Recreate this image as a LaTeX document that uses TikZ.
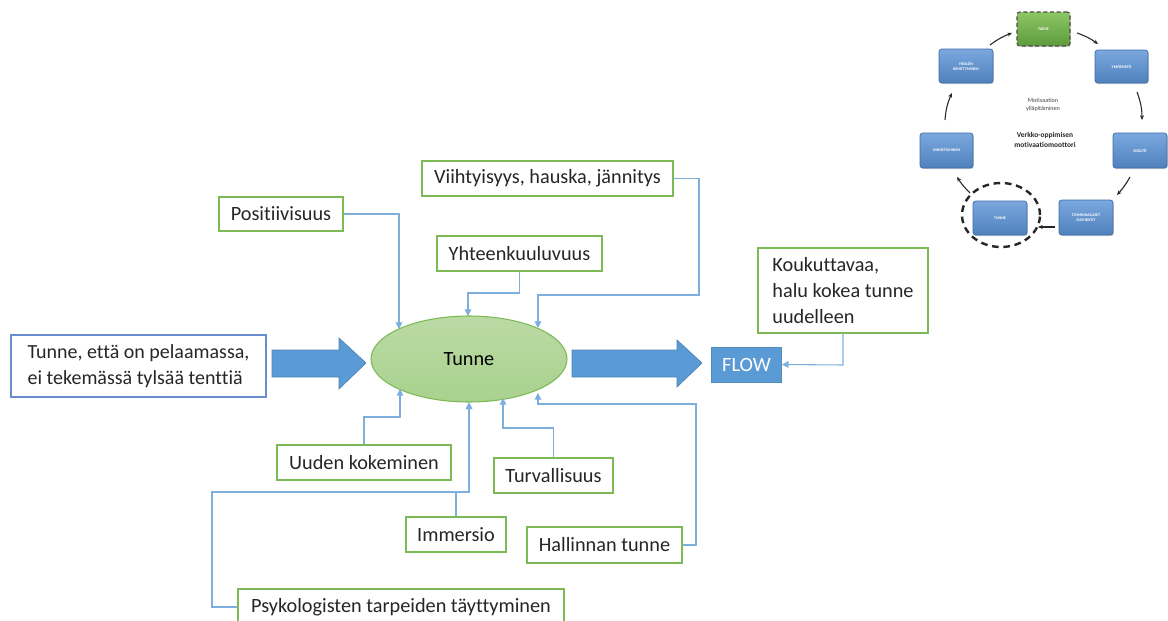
\documentclass[tikz,border=0pt]{standalone}
\usepackage{fontspec}
\setmainfont{Carlito}[Ligatures=NoCommon]
\usetikzlibrary{arrows.meta,shapes.geometric,shadows}
\definecolor{lblue}{HTML}{5B9BD5}
\definecolor{dblue}{HTML}{4472C4}
\definecolor{lgreen}{HTML}{7DBA55}
\definecolor{efill}{HTML}{A9D18E}
\definecolor{mblue}{HTML}{4F81BD}
\definecolor{mbluetop}{HTML}{7BA7DE}
\definecolor{mborder}{HTML}{3A6CA8}
\definecolor{gtop}{HTML}{8CC665}
\definecolor{gbot}{HTML}{5E9B3C}
\begin{document}
\begin{tikzpicture}[x=0.75pt,y=-0.75pt,
  sz/.style 2 args={minimum width=#1*0.75pt,minimum height=#2*0.75pt},
  lab/.style={draw=lgreen,line width=0.9pt,fill=white,inner sep=0pt,font=\fontsize{15.2}{19.5}\selectfont,text=black!85},
  link/.style={draw=lblue!80,line width=0.8pt,-{Triangle[width=5pt,length=5pt]}},
  fat/.style={fill=lblue,draw=lblue!85!black,line width=0.5pt},
  mini/.style={rounded corners=2pt,draw=mborder,line width=0.5pt,top color=mbluetop,bottom color=mblue,
    text=white,font=\fontsize{3}{3.6}\selectfont\bfseries,align=center,inner sep=0pt,
    drop shadow={shadow xshift=0.6pt,shadow yshift=-0.8pt,opacity=0.35}},
  cyc/.style={-{Stealth[length=3.5pt,width=3pt]},line width=0.8pt,black!85}
]
\useasboundingbox (0,0) rectangle (1168,621);

% central emotion ellipse
\node[ellipse,draw=lgreen,line width=0.8pt,top color=efill!80,bottom color=efill,
  sz={196}{86},inner sep=0pt,font=\fontsize{15.2}{18}\selectfont]
  (tunne) at (469,359) {Tunne};

% input box on the left
\node[draw=dblue!80,line width=0.8pt,inner sep=0pt,sz={255}{62},
  align=left,font=\fontsize{15}{20}\selectfont,text=black!85] (peli) at (138.5,366)
  {Tunne, että on pelaamassa,\\ei tekemässä tylsää tenttiä};

% outcome
\node[fill=lblue,draw=lblue!90!black,line width=0.5pt,sz={70}{35},inner sep=0pt,
  text=white,font=\fontsize{15.2}{18}\selectfont] (flow) at (746.5,364.5) {FLOW};

% wide arrows
\path[fat] (272,350) -- (339,350) -- (339,338) -- (366,363) -- (339,389) -- (339,377) -- (272,377) -- cycle;
\path[fat] (572,350) -- (677,350) -- (677,340) -- (702,363) -- (677,387) -- (677,377) -- (572,377) -- cycle;

% factor boxes
\node[lab,sz={251}{35}] (viiht) at (547.5,178.5) {Viihtyisyys, hauska, jännitys};
\node[lab,sz={124}{34}] (posit) at (281,214) {Positiivisuus};
\node[lab,sz={165}{35}] (yhteen) at (519.5,253.5) {Yhteenkuuluvuus};
\node[lab,sz={170}{85},align=left] (kouk) at (843,290.5)
  {Koukuttavaa,\\halu kokea tunne\\uudelleen};
\node[lab,sz={174}{35}] (uuden) at (364,462.5) {Uuden kokeminen};
\node[lab,sz={119}{35}] (turva) at (553.5,475.5) {Turvallisuus};
\node[lab,sz={100}{35}] (immer) at (456,534.5) {Immersio};
\node[lab,sz={155}{36}] (hall) at (604.5,545) {Hallinnan tunne};
\node[lab,sz={326}{36}] (psyk) at (401,607) {Psykologisten tarpeiden täyttyminen};

% connectors into the ellipse
\draw[link] (viiht.east) -- (699,178.5) -- (699,295) -- (538,295) -- (538,328);
\draw[link] (posit.east) -- (399,214) -- (399,329);
\draw[link] (yhteen.south) -- (519.5,293) -- (468,293) -- (468,316);
\draw[link] (uuden.north) -- (364,417) -- (400,417) -- (400,389);
\draw[link] (turva.north) -- (553.5,428) -- (503,428) -- (503,398);
\draw[link] (immer.north) -- (456,492) -- (469,492) -- (tunne.south);
\draw[link] (psyk.west) -- (212,607) -- (212,492) -- (469,492) -- (tunne.south);
\draw[link] (hall.east) -- (696,545) -- (696,404) -- (538,404) -- (538,393);
\draw[link] (kouk.south) -- (843,365) -- (flow.east);

% small motivation cycle
\node[rounded corners=2pt,draw=black!70,densely dashed,line width=0.8pt,top color=gtop,
  bottom color=gbot,sz={53}{34},inner sep=0pt,
  text=white,font=\fontsize{3}{3.6}\selectfont\bfseries,
  drop shadow={shadow xshift=0.6pt,shadow yshift=-0.8pt,opacity=0.35}] (tarve) at (1043.5,29) {TARVE};
\node[mini,sz={54}{34}] (yksilo) at (966,66) {YKSILÖN\\KEHITTYMINEN};
\node[mini,sz={53}{33}] (ymp) at (1121.5,66.5) {YMPÄRISTÖ};
\node[mini,sz={53}{35}] (onni) at (946.5,150.5) {ONNISTUMINEN};
\node[mini,sz={54}{35}] (sisalto) at (1140,150.5) {SISÄLTÖ};
\node[mini,sz={54}{34}] (tunnem) at (1000,218) {TUNNE};
\node[mini,sz={54}{35}] (toim) at (1086,217.5) {TOIMINNALLISET\\ELEMENTIT};
\node[ellipse,draw=black!85,dash pattern=on 5pt off 3.5pt,line width=1.8pt,sz={78}{64}]
  (ring) at (1001,215) {};

\node[font=\fontsize{4.6}{6}\selectfont,text=black!75,align=center] (motiv) at (1043,105)
  {Motivaation\\ylläpitäminen};
\node[font=\fontsize{5.6}{7.5}\selectfont\bfseries,text=black!85,align=center] (moott) at (1045,140)
  {Verkko-oppimisen\\motivaatiomoottori};

\draw[cyc] (990,45) to[bend left=8] (1012,33);
\draw[cyc] (1077,33) to[bend left=8] (1098,44);
\draw[cyc] (1137,92) to[bend left=10] (1142,120);
\draw[cyc] (1130,177) to[bend left=6] (1117,195);
\draw[cyc] (1055,227) -- (1038,227);
\draw[cyc] (970,193) to[bend left=6] (957,177);
\draw[cyc] (945,120) to[bend left=10] (952,93);
\end{tikzpicture}
\end{document}
